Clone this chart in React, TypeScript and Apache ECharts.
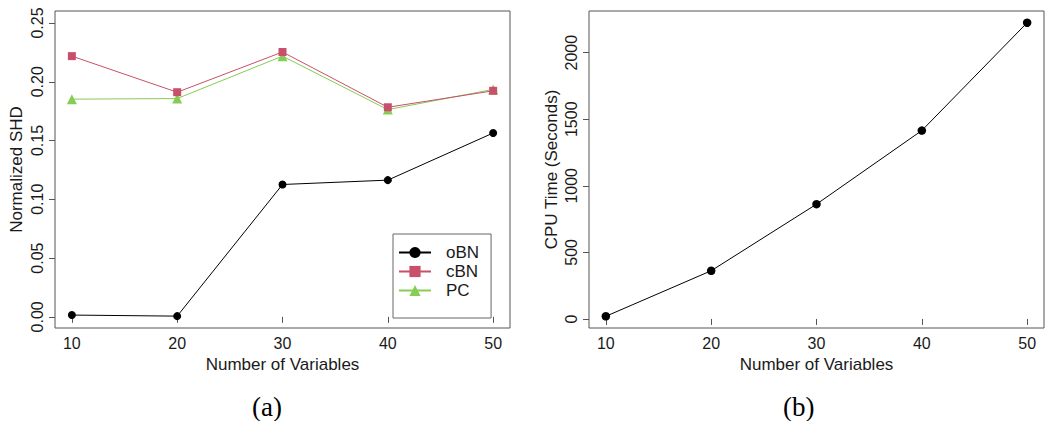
import React, { useEffect, useRef } from "react";
import * as echarts from "echarts";

const numVars = [10, 20, 30, 40, 50];
const oBN = [0.0015, 0.0006, 0.1126, 0.1163, 0.1564];
const cBN = [0.2218, 0.1911, 0.2253, 0.1783, 0.1923];
const PC = [0.1852, 0.1857, 0.2218, 0.1763, 0.1935];
const cpuTime = [20, 362, 862, 1415, 2225];
const shdTicks = [0, 0.05, 0.1, 0.15, 0.2, 0.25];
const cpuTicks = [0, 500, 1000, 1500, 2000];

const FONT = "Liberation Sans";
const AXIS_COLOR = "#555";
const TEXT_COLOR = "#1a1a1a";

const pairs = (ys: number[]) => numVars.map((x, i) => [x, ys[i]]);

export default function App() {
  const ref = useRef<HTMLDivElement>(null);
  useEffect(() => {
    document.body.style.margin = "0";
    const chart = echarts.init(ref.current!, null, { renderer: "svg" });
    const xAxisBase = (gridIndex: number) => ({
      type: "value" as const,
      gridIndex,
      min: 8.4,
      max: 51.6,
      name: "Number of Variables",
      nameLocation: "middle" as const,
      nameGap: 25,
      nameTextStyle: { fontFamily: FONT, fontSize: 17, color: TEXT_COLOR },
      axisLine: { show: false },
      splitLine: { show: false },
      axisTick: { show: true, inside: false, length: 6, customValues: numVars, lineStyle: { color: AXIS_COLOR } },
      axisLabel: { customValues: numVars, margin: 7, fontFamily: FONT, fontSize: 16, color: TEXT_COLOR },
    });
    const yAxisBase = (gridIndex: number, name: string, min: number, max: number, ticks: number[], fmt: (v: number) => string, nameGap: number) => ({
      type: "value" as const,
      gridIndex,
      min,
      max,
      name,
      nameLocation: "middle" as const,
      nameGap,
      nameTextStyle: { fontFamily: FONT, fontSize: 17, color: TEXT_COLOR },
      axisLine: { show: false },
      splitLine: { show: false },
      axisTick: { show: true, inside: false, length: 6, customValues: ticks, lineStyle: { color: AXIS_COLOR } },
      axisLabel: { customValues: ticks, rotate: 90, margin: 10, fontFamily: FONT, fontSize: 16, color: TEXT_COLOR, formatter: fmt },
    });
    chart.setOption({
      animation: false,
      grid: [
        { left: 55, top: 11, width: 455, height: 317, show: true, borderColor: AXIS_COLOR, borderWidth: 1, backgroundColor: "transparent" },
        { left: 589, top: 11, width: 455, height: 317, show: true, borderColor: AXIS_COLOR, borderWidth: 1, backgroundColor: "transparent" },
      ],
      xAxis: [xAxisBase(0), xAxisBase(1)],
      yAxis: [
        yAxisBase(0, "Normalized SHD", -0.0095, 0.2602, shdTicks, (v: number) => v.toFixed(2), 30),
        yAxisBase(1, "CPU Time (Seconds)", -68, 2313, cpuTicks, (v: number) => String(Math.round(v)), 29),
      ],
      legend: {
        data: ["oBN", "cBN", "PC"],
        orient: "vertical",
        left: 393,
        top: 234,
        padding: [10, 12, 19, 5],
        itemGap: 2,
        itemWidth: 32,
        itemHeight: 14,
        borderColor: "#666",
        borderWidth: 1,
        borderRadius: 0,
        textStyle: { fontFamily: FONT, fontSize: 17, color: TEXT_COLOR, padding: [0, 0, 0, 10] },
      },
      series: [
        {
          name: "oBN", type: "line", xAxisIndex: 0, yAxisIndex: 0, data: pairs(oBN),
          symbol: "circle", symbolSize: 8, z: 4,
          lineStyle: { color: "#000", width: 1 }, itemStyle: { color: "#000" },
        },
        {
          name: "PC", type: "line", xAxisIndex: 0, yAxisIndex: 0, data: pairs(PC),
          symbol: "triangle", symbolSize: 10, z: 2,
          lineStyle: { color: "#86CC55", width: 1 }, itemStyle: { color: "#86CC55" },
        },
        {
          name: "cBN", type: "line", xAxisIndex: 0, yAxisIndex: 0, data: pairs(cBN),
          symbol: "rect", symbolSize: 8, z: 3,
          lineStyle: { color: "#C8506A", width: 1 }, itemStyle: { color: "#C8506A" },
        },
        {
          name: "CPU", type: "line", xAxisIndex: 1, yAxisIndex: 1, data: pairs(cpuTime),
          symbol: "circle", symbolSize: 8.5,
          lineStyle: { color: "#000", width: 1 }, itemStyle: { color: "#000" },
        },
      ],
      graphic: [
        { type: "text", left: 252, top: 393, style: { text: "(a)", font: "27px 'Liberation Serif'", fill: "#000" } },
        { type: "text", left: 783, top: 393, style: { text: "(b)", font: "27px 'Liberation Serif'", fill: "#000" } },
      ],
    });
    return () => chart.dispose();
  }, []);
  return <div ref={ref} style={{ width: 1057, height: 421 }} />;
}
